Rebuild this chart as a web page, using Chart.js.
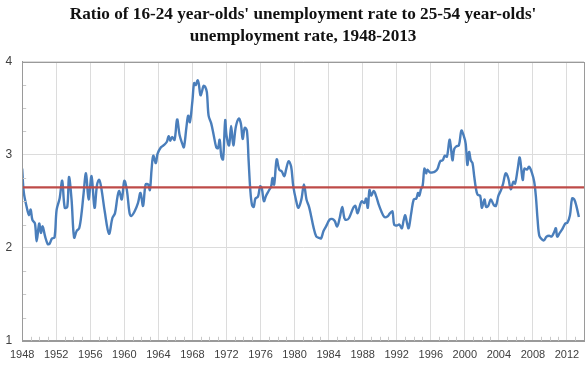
<!DOCTYPE html>
<html>
<head>
<meta charset="utf-8">
<title>Youth unemployment ratio</title>
<script src="https://cdn.jsdelivr.net/npm/chart.js@4.4.1/dist/chart.umd.min.js"></script>
<style>
    html, body { margin: 0; padding: 0; background: #ffffff; }
    #chart-wrap { width: 588px; height: 365px; }
</style>
</head>
<body>
<div id="chart-wrap">
    <canvas id="ratioChart" width="588" height="365"></canvas>
</div>
<script>
// ==========================================================================
// DATA
// ==========================================================================
const years = [
    1948.0, 1948.2, 1948.6, 1948.8, 1949.0, 1949.2, 1949.5, 1949.7, 1950.0, 1950.2,
    1950.4, 1950.7, 1951.0, 1951.2, 1951.5, 1951.8, 1952.05, 1952.4, 1952.7, 1953.0,
    1953.3, 1953.5, 1953.8, 1954.1, 1954.4, 1954.7, 1955.0, 1955.2, 1955.5, 1955.8,
    1956.15, 1956.5, 1956.8, 1957.05, 1957.3, 1957.7, 1958.2, 1958.6, 1958.9, 1959.2,
    1959.4, 1959.7, 1960.0, 1960.3, 1960.6, 1960.8, 1961.2, 1961.6, 1961.9, 1962.2,
    1962.5, 1962.8, 1963.0, 1963.2, 1963.4, 1963.7, 1963.9, 1964.3, 1964.6, 1965.0,
    1965.2, 1965.4, 1965.6, 1965.9, 1966.2, 1966.5, 1966.8, 1967.0, 1967.3, 1967.5,
    1967.7, 1968.0, 1968.2, 1968.4, 1968.6, 1968.75, 1968.95, 1969.15, 1969.3, 1969.5,
    1969.7, 1969.9, 1970.2, 1970.5, 1970.8, 1971.0, 1971.2, 1971.4, 1971.6, 1971.85,
    1972.0, 1972.3, 1972.55, 1972.8, 1973.1, 1973.45, 1973.7, 1973.9, 1974.15, 1974.4,
    1974.6, 1974.8, 1975.0, 1975.2, 1975.4, 1975.7, 1975.95, 1976.15, 1976.4, 1976.65,
    1976.95, 1977.25, 1977.4, 1977.6, 1977.9, 1978.2, 1978.5, 1978.8, 1979.0, 1979.3,
    1979.6, 1979.85, 1980.2, 1980.45, 1980.8, 1981.1, 1981.4, 1981.7, 1981.95, 1982.2,
    1982.55, 1982.8, 1983.1, 1983.4, 1983.7, 1984.1, 1984.4, 1984.7, 1985.0, 1985.3,
    1985.6, 1985.85, 1986.1, 1986.4, 1986.9, 1987.15, 1987.4, 1987.7, 1987.9, 1988.2,
    1988.4, 1988.6, 1988.8, 1989.0, 1989.3, 1989.6, 1989.9, 1990.2, 1990.55, 1990.95,
    1991.2, 1991.5, 1991.7, 1992.05, 1992.3, 1992.6, 1992.8, 1993.0, 1993.2, 1993.4,
    1993.7, 1994.0, 1994.3, 1994.5, 1994.65, 1994.85, 1995.05, 1995.25, 1995.45, 1995.6,
    1995.9, 1996.2, 1996.5, 1996.8, 1997.1, 1997.4, 1997.65, 1997.9, 1998.2, 1998.35,
    1998.55, 1998.75, 1999.0, 1999.3, 1999.6, 1999.85, 2000.1, 2000.3, 2000.5, 2000.7,
    2000.9, 2001.1, 2001.3, 2001.5, 2001.8, 2002.0, 2002.3, 2002.5, 2002.75, 2003.05,
    2003.4, 2003.65, 2003.95, 2004.25, 2004.5, 2004.8, 2005.1, 2005.4, 2005.7, 2005.9,
    2006.2, 2006.45, 2006.8, 2007.0, 2007.3, 2007.55, 2007.9, 2008.15, 2008.35, 2008.55,
    2008.75, 2009.05, 2009.3, 2009.6, 2009.9, 2010.2, 2010.5, 2010.7, 2010.85, 2011.15,
    2011.45, 2011.8, 2012.05, 2012.35, 2012.6, 2012.85, 2013.1, 2013.4
];

const ratio = [
    2.85, 2.59, 2.41, 2.35, 2.41, 2.30, 2.26, 2.07, 2.26, 2.16,
    2.23, 2.12, 2.04, 2.04, 2.10, 2.11, 2.41, 2.53, 2.72, 2.43,
    2.44, 2.76, 2.52, 2.11, 2.18, 2.21, 2.39, 2.57, 2.80, 2.52,
    2.77, 2.43, 2.68, 2.73, 2.64, 2.39, 2.15, 2.32, 2.37, 2.55,
    2.61, 2.52, 2.72, 2.62, 2.38, 2.34, 2.39, 2.48, 2.59, 2.45,
    2.68, 2.68, 2.62, 2.84, 2.99, 2.91, 3.01, 3.08, 3.10, 3.14,
    3.20, 3.15, 3.19, 3.16, 3.38, 3.21, 3.12, 3.08, 3.30, 3.42,
    3.35, 3.58, 3.77, 3.75, 3.80, 3.76, 3.64, 3.69, 3.74, 3.73,
    3.67, 3.42, 3.34, 3.21, 3.08, 3.07, 3.16, 2.98, 2.95, 3.37,
    3.21, 3.10, 3.31, 3.10, 3.30, 3.39, 3.33, 3.17, 3.29, 3.26,
    2.94, 2.62, 2.46, 2.44, 2.53, 2.55, 2.66, 2.64, 2.50, 2.56,
    2.61, 2.66, 2.75, 2.68, 2.95, 2.84, 2.82, 2.77, 2.84, 2.93,
    2.87, 2.66, 2.50, 2.43, 2.52, 2.68, 2.52, 2.44, 2.34, 2.23,
    2.12, 2.11, 2.10, 2.18, 2.23, 2.30, 2.31, 2.29, 2.23, 2.32,
    2.44, 2.32, 2.30, 2.32, 2.43, 2.45, 2.37, 2.46, 2.50, 2.48,
    2.53, 2.43, 2.62, 2.56, 2.61, 2.55, 2.46, 2.39, 2.33, 2.34,
    2.37, 2.39, 2.25, 2.24, 2.25, 2.21, 2.29, 2.35, 2.27, 2.21,
    2.37, 2.52, 2.53, 2.59, 2.56, 2.63, 2.67, 2.85, 2.80, 2.84,
    2.81, 2.81, 2.82, 2.85, 2.93, 2.94, 2.99, 2.98, 3.16, 3.09,
    2.94, 3.06, 3.09, 3.10, 3.26, 3.21, 3.12, 2.89, 3.03, 2.94,
    2.91, 2.77, 2.64, 2.57, 2.56, 2.43, 2.52, 2.44, 2.45, 2.52,
    2.46, 2.45, 2.56, 2.62, 2.69, 2.80, 2.75, 2.63, 2.71, 2.69,
    2.84, 2.97, 2.73, 2.85, 2.84, 2.87, 2.80, 2.71, 2.55, 2.30,
    2.13, 2.09, 2.08, 2.12, 2.13, 2.12, 2.17, 2.21, 2.12, 2.16,
    2.20, 2.26, 2.27, 2.35, 2.53, 2.52, 2.45, 2.33
];

// Long-run average ratio (horizontal red reference line)
const avgYears = [1948, 2014];
const avgRatio = [2.65, 2.65];

// Axis tick labels
const xTickYears = [1948, 1952, 1956, 1960, 1964, 1968, 1972, 1976, 1980, 1984, 1988, 1992, 1996, 2000, 2004, 2008, 2012];
const yTickValues = [1, 2, 3, 4];

const chartTitle = [
    "Ratio of 16-24 year-olds' unemployment rate to 25-54 year-olds'",
    "unemployment rate, 1948-2013"
];

// ==========================================================================
// PLOT AREA FRAME + MINOR TICK MARKS
// ==========================================================================
const frameAndMinorTicks = {
    id: 'frameAndMinorTicks',
    afterDatasetsDraw(chart) {
        const { ctx, chartArea, scales } = chart;
        ctx.save();
        ctx.strokeStyle = '#c8c8c8';
        ctx.lineWidth = 1;
        ctx.beginPath();
        // minor ticks on the value axis, every 0.25
        for (let v = 1.25; v < 4; v += 0.25) {
            if (Math.abs(v - Math.round(v)) < 0.01) continue;
            const py = Math.round(scales.y.getPixelForValue(v)) + 0.5;
            ctx.moveTo(chartArea.left, py);
            ctx.lineTo(chartArea.left + 4, py);
        }
        // minor ticks on the year axis, every year
        for (let yr = 1949; yr < 2014; yr++) {
            if ((yr - 1948) % 4 === 0) continue;
            const px = Math.round(scales.x.getPixelForValue(yr)) + 0.5;
            ctx.moveTo(px, chartArea.bottom);
            ctx.lineTo(px, chartArea.bottom - 4);
        }
        ctx.stroke();

        // outer frame of plot area
        ctx.strokeStyle = '#9a9a9a';
        ctx.strokeRect(Math.round(chartArea.left) + 0.5, Math.round(chartArea.top) + 0.5,
            Math.round(chartArea.width), Math.round(chartArea.height));
        ctx.restore();
    }
};

// ==========================================================================
// CHART
// ==========================================================================
const ctxRatio = document.getElementById('ratioChart').getContext('2d');

new Chart(ctxRatio, {
    type: 'line',
    data: {
        datasets: [
            {
                label: 'Average',
                data: avgYears.map((yr, i) => ({ x: yr, y: avgRatio[i] })),
                borderColor: '#be4b48',
                borderWidth: 2.3,
                pointRadius: 0,
                tension: 0
            },
            {
                label: 'Ratio',
                data: years.map((yr, i) => ({ x: yr, y: ratio[i] })),
                borderColor: '#4a7ebb',
                borderWidth: 2.4,
                pointRadius: 0,
                tension: 0.35
            }
        ]
    },
    options: {
        responsive: false,
        animation: false,
        devicePixelRatio: 1,
        layout: { padding: { left: -4.5, right: 4, top: 0, bottom: -5 } },
        plugins: {
            legend: { display: false },
            tooltip: { enabled: false },
            title: {
                display: true,
                text: chartTitle,
                fullSize: false,
                color: '#111111',
                font: { family: "'Liberation Serif', 'Times New Roman', serif", size: 17.2, weight: 'bold', lineHeight: 1.3 },
                padding: { top: 3, bottom: 14 }
            }
        },
        scales: {
            x: {
                type: 'linear',
                min: 1948,
                max: 2014,
                afterBuildTicks: (scale) => {
                    scale.ticks = xTickYears.map(v => ({ value: v }));
                },
                ticks: {
                    color: '#404040',
                    font: { family: "'Liberation Sans', Arial, sans-serif", size: 11 },
                    padding: 8,
                    maxRotation: 0,
                    autoSkip: false,
                    callback: (v) => String(v)
                },
                grid: { color: '#dcdcdc', drawTicks: false },
                border: { color: '#9a9a9a' }
            },
            y: {
                min: 1,
                max: 4,
                afterBuildTicks: (scale) => {
                    scale.ticks = yTickValues.map(v => ({ value: v }));
                },
                ticks: {
                    color: '#404040',
                    font: { family: "'Liberation Sans', Arial, sans-serif", size: 12 },
                    padding: 10
                },
                grid: { color: '#dcdcdc', drawTicks: false },
                border: { color: '#9a9a9a' }
            }
        }
    },
    plugins: [frameAndMinorTicks]
});
</script>
</body>
</html>
